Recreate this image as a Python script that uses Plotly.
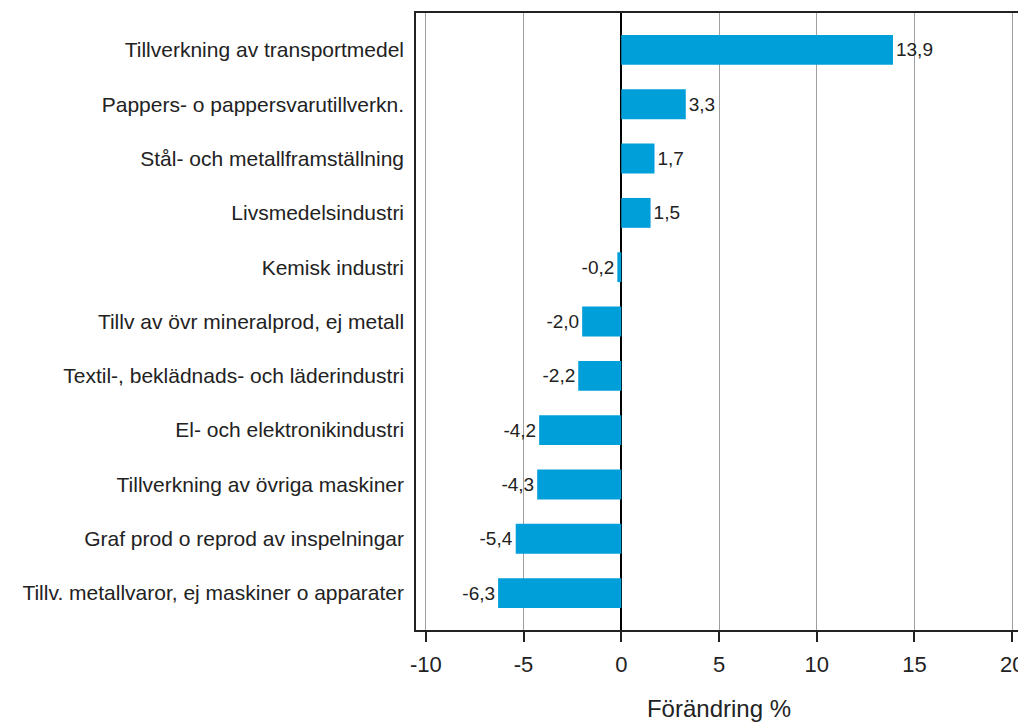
import plotly.graph_objects as go

categories = [
    "Tillverkning av transportmedel",
    "Pappers- o pappersvarutillverkn.",
    "Stål- och metallframställning",
    "Livsmedelsindustri",
    "Kemisk industri",
    "Tillv av övr mineralprod, ej metall",
    "Textil-, beklädnads- och läderindustri",
    "El- och elektronikindustri",
    "Tillverkning av övriga maskiner",
    "Graf prod o reprod av inspelningar",
    "Tillv. metallvaror, ej maskiner o apparater",
]
values = [13.9, 3.3, 1.7, 1.5, -0.2, -2.0, -2.2, -4.2, -4.3, -5.4, -6.3]
labels = [f"{v:.1f}".replace(".", ",") for v in values]
x_ticks = [-10, -5, 0, 5, 10, 15, 20]

FONT = "Liberation Sans, Arial, sans-serif"

fig = go.Figure(go.Bar(
    x=values, y=categories, orientation="h",
    marker=dict(color="#009FDA", line=dict(width=0)),
    width=0.55,
    text=labels, textposition="outside", cliponaxis=False,
    textfont=dict(family=FONT, size=19, color="#222"),
))

# page body has an 8px default margin: compensate so the plot area lands
# at x 416..1022, y 13..630 in the 1026x722 window
fig.update_layout(
    width=1018, height=714,
    margin=dict(l=408, r=4, t=5, b=92, autoexpand=False),
    paper_bgcolor="white", plot_bgcolor="white",
    showlegend=False,
    font=dict(family=FONT, color="#222"),
    xaxis=dict(
        automargin=False,
        range=[-10.5, 20.5], tickvals=x_ticks, ticktext=[str(t) for t in x_ticks],
        showgrid=True, gridcolor="#a0a0a0", gridwidth=1,
        zeroline=True, zerolinecolor="black", zerolinewidth=1.5,
        showline=True, linecolor="#222", linewidth=1.5, mirror=True,
        ticks="outside", ticklen=10, tickcolor="#222", tickwidth=1.5,
        tickfont=dict(size=22), ticklabelstandoff=4,
        title=dict(text="Förändring %", font=dict(size=24), standoff=26),
    ),
    yaxis=dict(
        automargin=False,
        type="category", categoryorder="array", categoryarray=categories,
        range=[10.68, -0.68],
        showgrid=False, zeroline=False,
        showline=True, linecolor="#222", linewidth=1.5, mirror=True,
        ticks="", tickfont=dict(size=21), ticklabelstandoff=6,
    ),
)

fig.write_html("out.html")
